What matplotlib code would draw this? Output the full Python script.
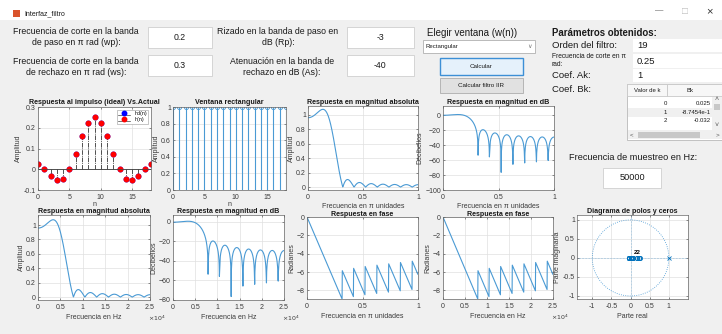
import numpy as np
import matplotlib.pyplot as plt
from matplotlib.patches import Rectangle

plt.rcParams['font.family'] = ['Liberation Sans', 'DejaVu Sans']

W, H = 722, 334
BLUE = '#4a9ad4'
DARK = '#0072BD'

# FIR low-pass, rectangular window, wc = 0.25 pi, order 19
n = np.arange(19)
hd = [0.02501, 0.0, -0.03215, -0.05305, -0.04502, 0.0, 0.07503, 0.15915, 0.22508, 0.25,
      0.22508, 0.15915, 0.07503, 0.0, -0.04502, -0.05305, -0.03215, 0.0, 0.02501]
wn = [1] * 19
hn = list(np.array(hd) * np.array(wn))
fs = 50000

wp, ws, rp, att = '0.2', '0.3', '-3', '-40'
orden, wc, ak = '19', '0.25', '1'
tabla_k = ['0', '1', '2']
tabla_bk = ['0.025', '-8.7454e-1', '-0.032']

# frequency response, 500 points over 0..pi
Hw = np.fft.fft(hn, 1000)[:500]
w = np.arange(500) / 500
f = w * fs / 2
mag = np.abs(Hw)
db = 20 * np.log10(mag)
fase = np.unwrap(np.angle(Hw))

fig = plt.figure(figsize=(W / 100, H / 100), dpi=100, facecolor='#f0f0f0')


def fx(x):
    return x / W


def fy(y):
    return 1 - y / H


def rect(x0, y0, x1, y1, fc='white', ec='#cfcfcf', lw=0.6):
    fig.patches.append(Rectangle((fx(x0), fy(y1)), (x1 - x0) / W, (y1 - y0) / H,
                                 transform=fig.transFigure, fc=fc, ec=ec, lw=lw))


def txt(x, y, s, size=6.3, ha='center', **kw):
    fig.text(fx(x), fy(y), s, fontsize=size, ha=ha, va='center', color=kw.pop('color', '#1a1a1a'), **kw)


def axes_px(x0, y0, x1, y1):
    ax = fig.add_axes([fx(x0), fy(y1), (x1 - x0) / W, (y1 - y0) / H])
    ax.set_facecolor('white')
    ax.grid(True, color='#e0e0e0', linewidth=0.5)
    ax.set_axisbelow(True)
    ax.tick_params(labelsize=5, length=1.5, width=0.4, colors='#3a3a3a', pad=1.5,
                   direction='in', top=True, right=True)
    ax.tick_params(axis='x', pad=3)
    for s in ax.spines.values():
        s.set_linewidth(0.5)
        s.set_color('#666666')
    return ax


def titulo(ax, s, pad=1.5):
    ax.set_title(s, fontsize=5.1, fontweight='bold', pad=pad, color='#1a1a1a')


def etiquetas(ax, xl, yl, xpad=2):
    ax.set_xlabel(xl, fontsize=5, labelpad=xpad, color='#3a3a3a')
    ax.set_ylabel(yl, fontsize=5, labelpad=1, color='#3a3a3a')


def eje_hz(ax):
    ax.set_xlim(0, fs / 2)
    ax.set_xticks([0, 5000, 10000, 15000, 20000, 25000])
    ax.set_xticklabels(['0', '0.5', '1', '1.5', '2', '2.5'])
    ax.text(0.98, -0.22, r'$\times10^4$', transform=ax.transAxes, fontsize=4.5,
            ha='left', va='center', color='#3a3a3a')


# title bar
rect(0, 0, 722, 20, fc='white', ec='none')
rect(13, 10, 20, 17, fc='#d9532c', ec='none')
txt(24, 14, 'Interfaz_filtro', size=5, ha='left')
txt(659, 11, '\u2014', size=6, color='#555555')
txt(685, 11, '\u25a1', size=7, color='#bbbbbb')
txt(709, 11, '\u00d7', size=8, color='#333333')

# input parameters
txt(76, 37, 'Frecuencia de corte en la banda\nde paso en \u03c0 rad (wp):')
txt(76, 67, 'Frecuencia de corte en la banda\nde rechazo en \u03c0 rad (ws):')
rect(148, 27, 212, 48)
rect(148, 55, 212, 76)
txt(180, 38, wp)
txt(180, 66, ws)
txt(278, 37, 'Rizado en la banda de paso en\ndB (Rp):')
txt(282, 67, 'Atenuaci\u00f3n en la banda de\nrechazo en dB (As):')
rect(347, 27, 414, 48)
rect(347, 55, 414, 76)
txt(380, 38, rp)
txt(380, 66, att)

# window selection and buttons
txt(472, 33, 'Elegir ventana (w(n))', size=7)
rect(423, 40, 535, 53, fc='white', ec='#b0b0b0')
txt(426, 46.5, 'Rectangular', size=4.3, ha='left')
txt(530, 46.5, '\u2228', size=4.5, color='#777777')
rect(440, 58, 523, 75, fc='#e5f1fb', ec='#3c8fd6', lw=1.0)
txt(481, 66.5, 'Calcular', size=4.5)
rect(440, 78, 523, 93, fc='#e1e1e1', ec='#adadad')
txt(481, 85.5, 'Calcular filtro IIR', size=4.5)

# obtained parameters
txt(552, 33, 'Par\u00e1metros obtenidos:', size=6.9, ha='left', fontweight='bold')
rect(633, 39, 722, 52, fc='white', ec='none')
rect(633, 54, 722, 68, fc='white', ec='none')
rect(633, 69, 722, 82, fc='white', ec='none')
txt(552, 45, 'Orden del filtro:', size=6.8, ha='left')
txt(637, 45, orden, size=6.8, ha='left')
txt(552, 60, 'Frecuencia de corte en \u03c0\nrad:', size=4.8, ha='left')
txt(637, 61, wc, size=6.8, ha='left')
txt(552, 75, 'Coef. Ak:', size=6.8, ha='left')
txt(637, 75, ak, size=6.8, ha='left')
txt(552, 90, 'Coef. Bk:', size=6.8, ha='left')

# Bk table
rect(627, 84, 722, 140, fc='white', ec='#b8b8b8')
rect(627, 84, 667, 96, fc='#f7f7f7', ec='#c8c8c8')
rect(667, 84, 722, 96, fc='#f7f7f7', ec='#c8c8c8')
txt(647, 90, 'Valor de k', size=4.3)
txt(690, 90, 'Bk', size=4.3)
for i, (k, b) in enumerate(zip(tabla_k, tabla_bk)):
    yy = 103 + 9 * i
    if i % 2 == 1:
        rect(628, yy - 4.5, 712, yy + 4.5, fc='#f0f0f0', ec='none')
    txt(667, yy, k, size=4.3, ha='right')
    txt(711, yy, b, size=4.3, ha='right')
rect(712, 97, 722, 130, fc='#f0f0f0', ec='none')
rect(714, 104, 720, 110, fc='#c8c8c8', ec='none')
txt(717, 100, '\u02c4', size=5, color='#555555')
txt(717, 126, '\u02c5', size=5, color='#555555')
rect(628, 130, 722, 139, fc='#f0f0f0', ec='none')
rect(638, 131.5, 700, 137.5, fc='#c8c8c8', ec='none')
txt(632, 134.5, '<', size=4.5, color='#555555')
txt(717, 134.5, '>', size=4.5, color='#555555')

# sampling frequency
txt(633, 157, 'Frecuencia de muestreo en Hz:', size=6.6)
rect(603, 168, 661, 188)
txt(632, 178, str(fs), size=6.6)

# impulse response: ideal vs windowed
ax = axes_px(38, 107, 151, 190)
ml, sl, bl = ax.stem(n, hd, linefmt='k-.', markerfmt='o', basefmt='k-', label='hd(n)')
plt.setp(ml, color='blue', markersize=3.2)
plt.setp(sl, linewidth=0.5, color='#444444')
plt.setp(bl, linewidth=0.5, color='#444444')
ml, sl, bl = ax.stem(n, hn, linefmt='k-.', markerfmt='o', basefmt='k-', label='h(n)')
plt.setp(ml, color='red', markersize=3.2)
plt.setp(sl, linewidth=0.5, color='#444444')
plt.setp(bl, linewidth=0.5, color='#444444')
ax.set_xlim(0, 18)
ax.set_ylim(-0.1, 0.3)
ax.set_xticks([0, 5, 10, 15])
ax.set_yticks([-0.1, 0, 0.1, 0.2, 0.3])
ax.set_yticklabels(['-0.1', '0', '0.1', '0.2', '0.3'])
titulo(ax, 'Respuesta al impulso (ideal) Vs.Actual', pad=2.5)
etiquetas(ax, 'n', 'Amplitud', xpad=0)
leg = ax.legend(fontsize=3.8, loc='upper right', handlelength=2.2, borderpad=0.3,
                labelspacing=0.2, framealpha=1, fancybox=False, edgecolor='#999999')
leg.get_frame().set_linewidth(0.4)

# window
ax = axes_px(173, 107, 286, 190)
ml, sl, bl = ax.stem(n, wn, linefmt='-', markerfmt='o', basefmt='-')
plt.setp(ml, color=BLUE, markersize=3, markerfacecolor='none', markeredgewidth=0.6)
plt.setp(sl, color=BLUE, linewidth=0.8)
plt.setp(bl, color=BLUE, linewidth=0.6)
ax.set_xlim(0, 18)
ax.set_ylim(0, 1)
ax.set_xticks([0, 5, 10, 15])
ax.set_yticks([0, 0.2, 0.4, 0.6, 0.8, 1])
ax.set_yticklabels(['0', '0.2', '0.4', '0.6', '0.8', '1'])
titulo(ax, 'Ventana rectangular', pad=2.5)
etiquetas(ax, 'n', 'Amplitud', xpad=0)

# magnitude, pi units
ax = axes_px(308, 106, 418, 190)
ax.plot(w, mag, color=BLUE, lw=0.8)
ax.set_xlim(0, 1)
ax.set_ylim(-0.04, 1.12)
ax.set_xticks([0, 0.5, 1])
ax.set_xticklabels(['0', '0.5', '1'])
ax.set_yticks([0, 0.2, 0.4, 0.6, 0.8, 1])
ax.set_yticklabels(['0', '0.2', '0.4', '0.6', '0.8', '1'])
titulo(ax, 'Respuesta en magnitud absoluta')
etiquetas(ax, 'Frecuencia en \u03c0 unidades', 'Amplitud', xpad=1)

# magnitude dB, pi units
ax = axes_px(443, 106, 554, 190)
ax.plot(w, db, color=BLUE, lw=0.8)
ax.set_xlim(0, 1)
ax.set_ylim(-100, 12)
ax.set_xticks([0, 0.5, 1])
ax.set_xticklabels(['0', '0.5', '1'])
ax.set_yticks([-100, -80, -60, -40, -20, 0])
titulo(ax, 'Respuesta en magnitud en dB')
etiquetas(ax, 'Frecuencia en \u03c0 unidades', 'Decibelios', xpad=1)

# magnitude, Hz
ax = axes_px(38, 215, 150, 300)
ax.plot(f, mag, color=BLUE, lw=0.8)
eje_hz(ax)
ax.set_ylim(-0.04, 1.14)
ax.set_yticks([0, 0.2, 0.4, 0.6, 0.8, 1])
ax.set_yticklabels(['0', '0.2', '0.4', '0.6', '0.8', '1'])
titulo(ax, 'Respuesta en magnitud absoluta')
etiquetas(ax, 'Frecuencia en Hz', 'Amplitud')

# magnitude dB, Hz
ax = axes_px(173, 215, 284, 300)
ax.plot(f, db, color=BLUE, lw=0.8)
eje_hz(ax)
ax.set_ylim(-80, 7)
ax.set_yticks([-80, -60, -40, -20, 0])
titulo(ax, 'Respuesta en magnitud en dB')
etiquetas(ax, 'Frecuencia en Hz', 'Decibelios')

# phase, pi units
ax = axes_px(307, 217, 418, 299)
ax.plot(w, fase, color=BLUE, lw=0.8)
ax.set_xlim(0, 1)
ax.set_ylim(fase.min(), 0)
ax.set_xticks([0, 0.5, 1])
ax.set_xticklabels(['0', '0.5', '1'])
ax.set_yticks([-8, -6, -4, -2, 0])
titulo(ax, 'Respuesta en fase', pad=1)
etiquetas(ax, 'Frecuencia en \u03c0 unidades', 'Radianes')

# phase, Hz
ax = axes_px(443, 217, 553, 299)
ax.plot(f, fase, color=BLUE, lw=0.8)
eje_hz(ax)
ax.set_ylim(fase.min(), 0)
ax.set_yticks([-8, -6, -4, -2, 0])
titulo(ax, 'Respuesta en fase', pad=1)
etiquetas(ax, 'Frecuencia en Hz', 'Radianes')

# pole-zero diagram (coefficients taken as zeros, a = 1 as pole)
ax = axes_px(577, 215, 688, 299)
t = np.linspace(0, 2 * np.pi, 200)
ax.plot(np.cos(t), np.sin(t), ':', color=BLUE, lw=0.6)
ax.axhline(0, color=BLUE, ls=':', lw=0.4)
ax.axvline(0, color=BLUE, ls=':', lw=0.4)
ax.plot(hn, np.zeros(len(hn)), 'o', color=DARK, markersize=3, markerfacecolor='none',
        markeredgewidth=0.6)
ax.plot([1], [0], 'x', color=DARK, markersize=3, markeredgewidth=0.6)
ax.text(0.18, 0.15, '22', fontsize=4.5, fontweight='bold', ha='center', va='center')
ax.set_xlim(-1.4, 1.5)
ax.set_ylim(-1.08, 1.13)
ax.set_xticks([-1, -0.5, 0, 0.5, 1])
ax.set_xticklabels(['-1', '-0.5', '0', '0.5', '1'])
ax.set_yticks([-1, -0.5, 0, 0.5, 1])
ax.set_yticklabels(['-1', '-0.5', '0', '0.5', '1'])
titulo(ax, 'Diagrama de polos y ceros')
etiquetas(ax, 'Parte real', 'Parte imaginaria')

fig.savefig('out.png', dpi=100, facecolor=fig.get_facecolor())
